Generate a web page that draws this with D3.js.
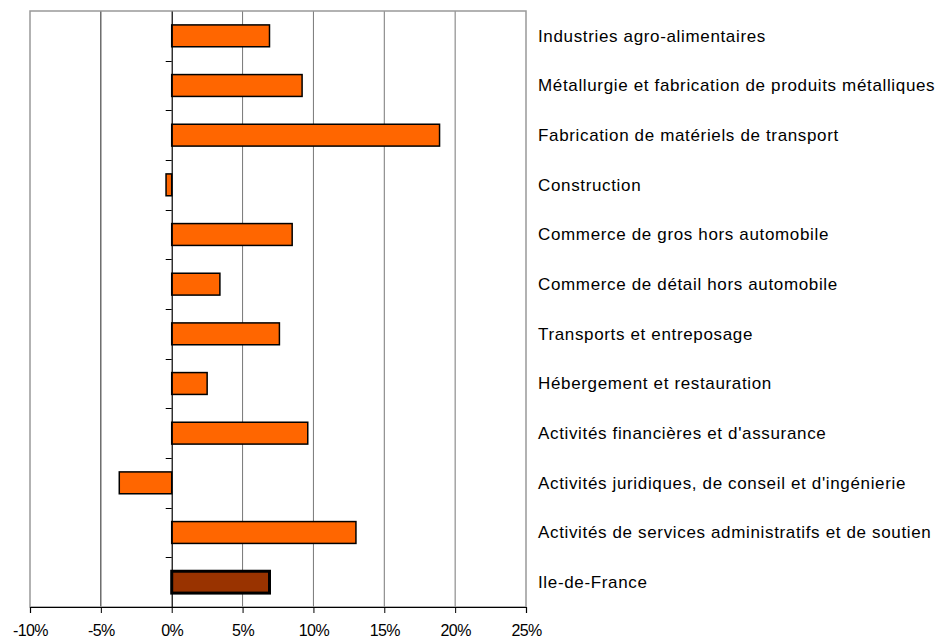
<!DOCTYPE html>
<html>
<head>
<meta charset="utf-8">
<script src="https://cdn.jsdelivr.net/npm/d3@7"></script>
<style>
  body { margin: 0; background: #fff; }
  text { font-family: "Liberation Sans", Arial, sans-serif; fill: #000; }
</style>
</head>
<body>
<div id="chart"></div>
<script>
const categories = [
  "Industries agro-alimentaires",
  "Métallurgie et fabrication de produits métalliques",
  "Fabrication de matériels de transport",
  "Construction",
  "Commerce de gros hors automobile",
  "Commerce de détail hors automobile",
  "Transports et entreposage",
  "Hébergement et restauration",
  "Activités financières et d'assurance",
  "Activités juridiques, de conseil et d'ingénierie",
  "Activités de services administratifs et de soutien",
  "Ile-de-France"
];
const values = [6.9, 9.2, 18.9, -0.4, 8.5, 3.4, 7.6, 2.5, 9.6, -3.7, 13.0, 6.9];
const ticks = [-10, -5, 0, 5, 10, 15, 20, 25];

const width = 936, height = 641;
const plot = { left: 30, top: 11, right: 526, bottom: 607 };

const svg = d3.select("#chart").append("svg")
  .attr("width", width)
  .attr("height", height);

const x = d3.scaleLinear().domain([-10, 25]).range([plot.left, plot.right]);
const y = d3.scaleBand().domain(categories).range([plot.top, plot.bottom]).paddingInner(0.56).paddingOuter(0.28);
const yBand = d3.scaleBand().domain(categories).range([plot.top, plot.bottom]);

// grid lines
svg.append("g")
  .selectAll("line")
  .data(ticks.filter(d => d !== 0 && d !== -10 && d !== 25))
  .enter().append("line")
  .attr("x1", d => x(d)).attr("x2", d => x(d))
  .attr("y1", plot.top).attr("y2", plot.bottom)
  .attr("stroke", d => d === -5 ? "#222" : "#777")
  .attr("stroke-width", 1);

// plot border
svg.append("rect")
  .attr("x", plot.left).attr("y", plot.top)
  .attr("width", plot.right - plot.left).attr("height", plot.bottom - plot.top)
  .attr("fill", "none").attr("stroke", "#999").attr("stroke-width", 1.5);

// bars
svg.append("g")
  .selectAll("rect")
  .data(categories)
  .enter().append("rect")
  .attr("x", (d, i) => x(Math.min(0, values[i])))
  .attr("y", d => y(d))
  .attr("width", (d, i) => Math.abs(x(values[i]) - x(0)))
  .attr("height", y.bandwidth())
  .attr("fill", (d, i) => i === categories.length - 1 ? "#993300" : "#ff6600")
  .attr("stroke", "#000")
  .attr("stroke-width", (d, i) => i === categories.length - 1 ? 3 : 1.5);

// vertical zero axis with ticks at band boundaries
const zeroAxis = d3.axisLeft(yBand).tickSize(0).tickFormat("");
svg.append("g")
  .attr("transform", "translate(" + x(0) + ",0)")
  .call(zeroAxis)
  .call(g => g.select(".domain").attr("stroke", "#000").attr("stroke-width", 1.2));
svg.append("g")
  .selectAll("line")
  .data(categories.slice(1))
  .enter().append("line")
  .attr("x1", x(0) - 6).attr("x2", x(0))
  .attr("y1", d => Math.round(yBand(d)) + 0.5)
  .attr("y2", d => Math.round(yBand(d)) + 0.5)
  .attr("stroke", "#000");

// bottom axis
const xAxis = d3.axisBottom(x).tickValues(ticks).tickSize(6).tickPadding(12)
  .tickFormat(d => d + "%");
svg.append("g")
  .attr("transform", "translate(0," + plot.bottom + ")")
  .call(xAxis)
  .call(g => g.select(".domain").attr("stroke", "#000").attr("stroke-width", 1.2))
  .call(g => g.selectAll(".tick line").attr("stroke", "#000"))
  .call(g => g.selectAll(".tick text").attr("font-size", 16).attr("font-family", "Liberation Sans, Arial, sans-serif").attr("letter-spacing", "-0.6px"));

// category labels
svg.append("g")
  .selectAll("text")
  .data(categories)
  .enter().append("text")
  .attr("x", 538)
  .attr("y", d => yBand(d) + yBand.bandwidth() / 2)
  .attr("dy", "0.35em")
  .attr("font-size", 17)
  .attr("letter-spacing", "0.65px")
  .text(d => d);
</script>
</body>
</html>
